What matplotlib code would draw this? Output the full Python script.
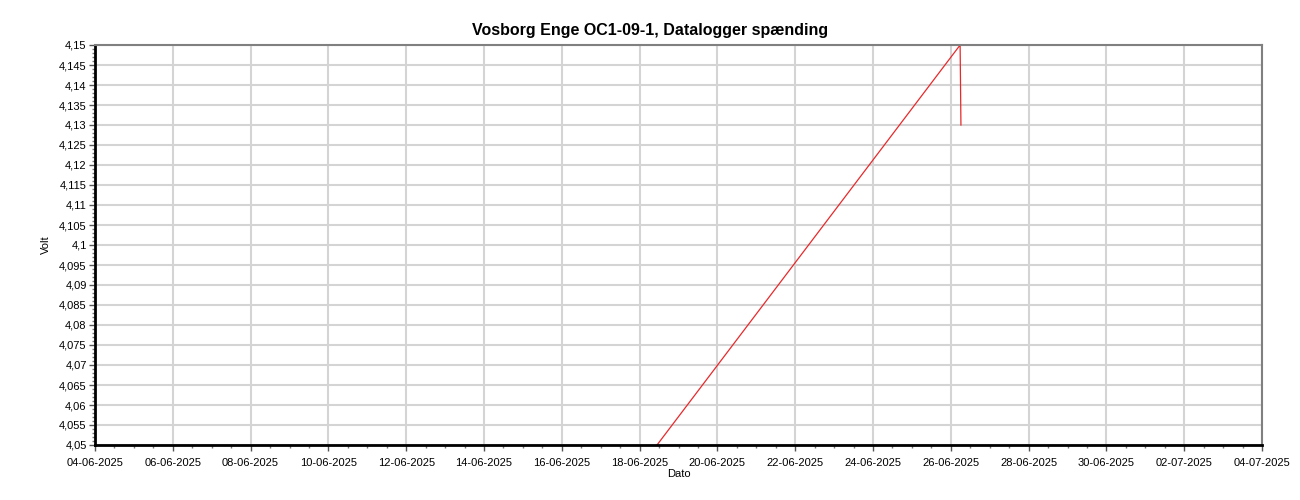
import matplotlib
matplotlib.use("Agg")
import matplotlib.pyplot as plt
import matplotlib.dates as mdates
from matplotlib.ticker import MultipleLocator, FuncFormatter
import datetime as dt

plt.rcParams['font.family'] = ['Liberation Sans', 'DejaVu Sans']

times = ["2025-06-18 10:45", "2025-06-26 05:45", "2025-06-26 06:15"]
volts = [4.05, 4.15, 4.13]

x = [dt.datetime.strptime(t, "%Y-%m-%d %H:%M") for t in times]

fig = plt.figure(figsize=(13, 5), dpi=100)
ax = fig.add_axes([95/1300, 55/500, (1262-95)/1300, 400/500])

ax.plot(x, volts, color='#e8292b', lw=0.9, clip_on=True)

ax.set_xlim(dt.datetime(2025, 6, 4), dt.datetime(2025, 7, 4))
ax.set_ylim(4.05, 4.15)

ax.xaxis.set_major_locator(mdates.DayLocator(bymonthday=[4, 6, 8, 10, 12, 14, 16, 18, 20, 22, 24, 26, 28, 30, 2]))
ax.xaxis.set_major_formatter(mdates.DateFormatter("%d-%m-%Y"))
ax.xaxis.set_minor_locator(mdates.HourLocator(byhour=[0, 12]))

ax.yaxis.set_major_locator(MultipleLocator(0.005))
ax.yaxis.set_minor_locator(MultipleLocator(0.001))

def yfmt(v, pos):
    s = f"{v:.3f}".rstrip('0').rstrip('.')
    return s.replace('.', ',')
ax.yaxis.set_major_formatter(FuncFormatter(yfmt))

ax.grid(True, which='major', color='#d4d4d4', lw=1.5)
ax.set_axisbelow(True)

for side in ['left', 'bottom']:
    ax.spines[side].set_color('black')
    ax.spines[side].set_linewidth(2)
for side in ['top', 'right']:
    ax.spines[side].set_color('#808080')
    ax.spines[side].set_linewidth(1.5)

ax.tick_params(axis='both', which='major', labelsize=8, length=4, width=1, color='#555555', pad=2)
ax.tick_params(axis='x', which='major', pad=5)
ax.tick_params(axis='both', which='minor', length=2.5, width=1, color='#777777')

fig.text(0.5, 1 - 30/500, "Vosborg Enge OC1-09-1, Datalogger spænding", fontsize=11.5,
         fontweight='bold', ha='center', va='center')
ax.set_xlabel("Dato", fontsize=8, labelpad=1)
ax.set_ylabel("Volt", fontsize=8, labelpad=6)

fig.savefig("out.png", dpi=100, facecolor='white')
